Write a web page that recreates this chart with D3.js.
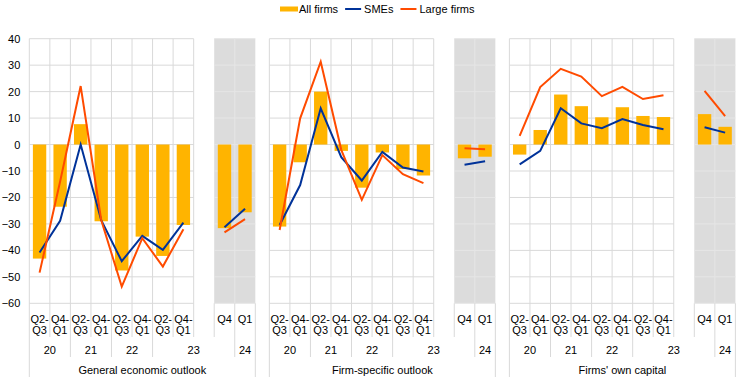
<!DOCTYPE html>
<html>
<head>
<meta charset="utf-8">
<script src="https://cdn.jsdelivr.net/npm/d3@7"></script>
<style>
  body { margin: 0; background: #fff; }
  svg { font-family: "Liberation Sans", Arial, sans-serif; font-size: 11px; fill: #000; }
</style>
</head>
<body>
<div id="chart"></div>
<script>
// 데이터
const groups = ["General economic outlook", "Firm-specific outlook", "Firms' own capital"];
const periods = ["20Q2-Q3", "20Q4-21Q1", "21Q2-Q3", "21Q4-22Q1", "22Q2-Q3", "22Q4-23Q1", "23Q2-Q3", "23Q4-24Q1"];
const periodTop = ["Q2-", "Q4-", "Q2-", "Q4-", "Q2-", "Q4-", "Q2-", "Q4-"];
const periodBottom = ["Q3", "Q1", "Q3", "Q1", "Q3", "Q1", "Q3", "Q1"];
const recent = ["23Q4", "24Q1"];
const recentLabels = ["Q4", "Q1"];
// year label, first slot, last slot
const yearSpans = [["20", 0, 1], ["21", 2, 3], ["22", 4, 5], ["23", 6, 9], ["24", 10, 10]];
const yTicks = [40, 30, 20, 10, 0, -10, -20, -30, -40, -50, -60];

const allFirms = [
  [-43.1, -23.5, 7.7, -29.0, -47.6, -34.8, -42.1, -30.4],
  [-31.0, -6.7, 20.0, -2.4, -16.3, -3.0, -9.3, -11.7],
  [-3.8, 5.5, 18.9, 14.5, 10.3, 14.1, 10.8, 10.4],
];
const allFirmsRecent = [[-31.6, -25.6], [-5.2, -4.6], [11.5, 6.7]];
const smes = [
  [-40.8, -28.8, 0.0, -28.6, -44.1, -34.5, -39.8, -29.5],
  [-30.4, -15.3, 13.7, -4.8, -13.6, -2.8, -8.7, -10.2],
  [-7.5, -2.4, 13.7, 8.0, 6.2, 9.6, 7.4, 5.8],
];
const smesRecent = [[-31.3, -24.3], [-7.6, -6.3], [6.5, 4.5]];
const largeFirms = [
  [-48.4, -14.0, 22.1, -28.5, -53.7, -35.4, -46.1, -32.0],
  [-32.3, 9.9, 31.3, -2.0, -20.9, -4.0, -11.2, -14.6],
  [3.3, 21.7, 28.6, 25.7, 18.3, 21.8, 17.2, 18.6],
];
const largeFirmsRecent = [[-33.2, -28.2], [-1.4, -1.8], [20.3, 10.7]];

const colors = { all: "#FFB400", sme: "#003299", large: "#FF4B00" };
const gridColor = "#d9d9d9";

const width = 744, height = 384;
const svg = d3.select("#chart").append("svg").attr("width", width).attr("height", height);

const y = d3.scaleLinear().domain([-60, 40]).range([303.3, 38.7]);
const rowTick = 337, rowYear = 357, rowGroup = 377;

const slots = [...periods, "gap", ...recent];
const groupScale = d3.scaleBand().domain(d3.range(groups.length)).range([29.3, 735.4]).paddingInner(0.0585);

// y축 라벨
svg.append("g")
  .attr("transform", "translate(29.3,0)")
  .call(d3.axisLeft(y).tickValues(yTicks).tickSize(0).tickPadding(9))
  .call((g) => g.select(".domain").remove())
  .selectAll("text")
  .style("font-family", "Liberation Sans, Arial, sans-serif")
  .style("font-size", "11px")
  .attr("fill", "#000");

groups.forEach((name, gi) => {
  const x0 = groupScale(gi);
  const x = d3.scaleBand().domain(slots).range([x0, x0 + groupScale.bandwidth()]);
  const bw = x.bandwidth();
  const g = svg.append("g");

  // 회색 최근 구간
  const grayX = x(recent[0]);
  const grayW = x(recent[1]) + bw - grayX;
  g.append("rect")
    .attr("x", grayX).attr("y", y(40))
    .attr("width", grayW).attr("height", y(-60) - y(40))
    .attr("fill", "#dcdcdc");
  g.selectAll(".ggrid")
    .data(yTicks)
    .enter().append("line")
    .attr("x1", grayX).attr("x2", grayX + grayW)
    .attr("y1", (d) => y(d)).attr("y2", (d) => y(d))
    .attr("stroke", "#e6e6e6").attr("stroke-width", 1);
  g.append("line")
    .attr("x1", x(recent[1])).attr("x2", x(recent[1]))
    .attr("y1", y(40)).attr("y2", y(-60))
    .attr("stroke", "#e6e6e6");

  // 메인 그리드
  const mainL = x(periods[0]);
  const mainR = x(periods[periods.length - 1]) + bw;
  g.selectAll(".hgrid")
    .data(yTicks)
    .enter().append("line")
    .attr("x1", mainL).attr("x2", mainR)
    .attr("y1", (d) => y(d)).attr("y2", (d) => y(d))
    .attr("stroke", gridColor);

  // 세로선 (카테고리 경계)
  const yearBounds = yearSpans.map((s) => s[1]);
  const bounds = d3.range(slots.length + 1).map((i) => {
    const xp = i < slots.length ? x(slots[i]) : x(slots[slots.length - 1]) + bw;
    let bottom = rowTick;
    if (i === 0 || i === slots.length) bottom = rowGroup;
    else if (yearBounds.includes(i)) bottom = rowYear;
    const top = i <= periods.length ? y(40) : y(-60);
    return { xp, top, bottom };
  });
  g.selectAll(".vgrid")
    .data(bounds)
    .enter().append("line")
    .attr("x1", (d) => d.xp).attr("x2", (d) => d.xp)
    .attr("y1", (d) => d.top).attr("y2", (d) => d.bottom)
    .attr("stroke", gridColor);

  // 막대
  const barData = periods.map((p, i) => ({ key: p, v: allFirms[gi][i] }))
    .concat(recent.map((p, i) => ({ key: p, v: allFirmsRecent[gi][i] })));
  const barW = bw * 0.65;
  g.selectAll(".bar")
    .data(barData)
    .enter().append("rect")
    .attr("x", (d) => x(d.key) + (bw - barW) / 2)
    .attr("width", barW)
    .attr("y", (d) => y(Math.max(0, d.v)))
    .attr("height", (d) => Math.abs(y(d.v) - y(0)))
    .attr("fill", colors.all);

  // 선
  const line = d3.line().x((d) => x(d.key) + bw / 2).y((d) => y(d.v));
  const series = [
    [smes[gi], smesRecent[gi], colors.sme],
    [largeFirms[gi], largeFirmsRecent[gi], colors.large],
  ];
  series.forEach(([main, rec, c]) => {
    [periods.map((p, i) => ({ key: p, v: main[i] })), recent.map((p, i) => ({ key: p, v: rec[i] }))]
      .forEach((pts) => {
        g.append("path")
          .datum(pts)
          .attr("d", line)
          .attr("fill", "none")
          .attr("stroke", c)
          .attr("stroke-width", 2)
          .attr("stroke-linejoin", "miter");
      });
  });

  // x축 라벨
  const labels = periods.map((p, i) => ({ key: p, a: periodTop[i], b: periodBottom[i] }))
    .concat(recent.map((p, i) => ({ key: p, a: recentLabels[i], b: "" })));
  labels.forEach((d) => {
    const cx = x(d.key) + bw / 2;
    g.append("text").attr("x", cx).attr("y", 322.5).attr("text-anchor", "middle").text(d.a);
    if (d.b) g.append("text").attr("x", cx).attr("y", 334).attr("text-anchor", "middle").text(d.b);
  });
  yearSpans.forEach(([lab, a, b]) => {
    const cx = (x(slots[a]) + x(slots[b]) + bw) / 2;
    g.append("text").attr("x", cx).attr("y", 354).attr("text-anchor", "middle").text(lab);
  });
  g.append("text")
    .attr("x", x0 + groupScale.bandwidth() / 2)
    .attr("y", 374)
    .attr("text-anchor", "middle")
    .text(name);
});

// 범례
const legendItems = [
  { label: "All firms", type: "bar", color: colors.all },
  { label: "SMEs", type: "line", color: colors.sme },
  { label: "Large firms", type: "line", color: colors.large },
];
let lx = 280;
const legend = svg.append("g");
legendItems.forEach((d) => {
  if (d.type === "bar") {
    legend.append("rect").attr("x", lx).attr("y", 6.5).attr("width", 18).attr("height", 5).attr("fill", d.color);
  } else {
    legend.append("line").attr("x1", lx).attr("x2", lx + 16).attr("y1", 9).attr("y2", 9)
      .attr("stroke", d.color).attr("stroke-width", 2);
  }
  const t = legend.append("text").attr("x", lx + 19).attr("y", 12.7).text(d.label);
  lx += 19 + t.node().getComputedTextLength() + 7;
});
</script>
</body>
</html>
